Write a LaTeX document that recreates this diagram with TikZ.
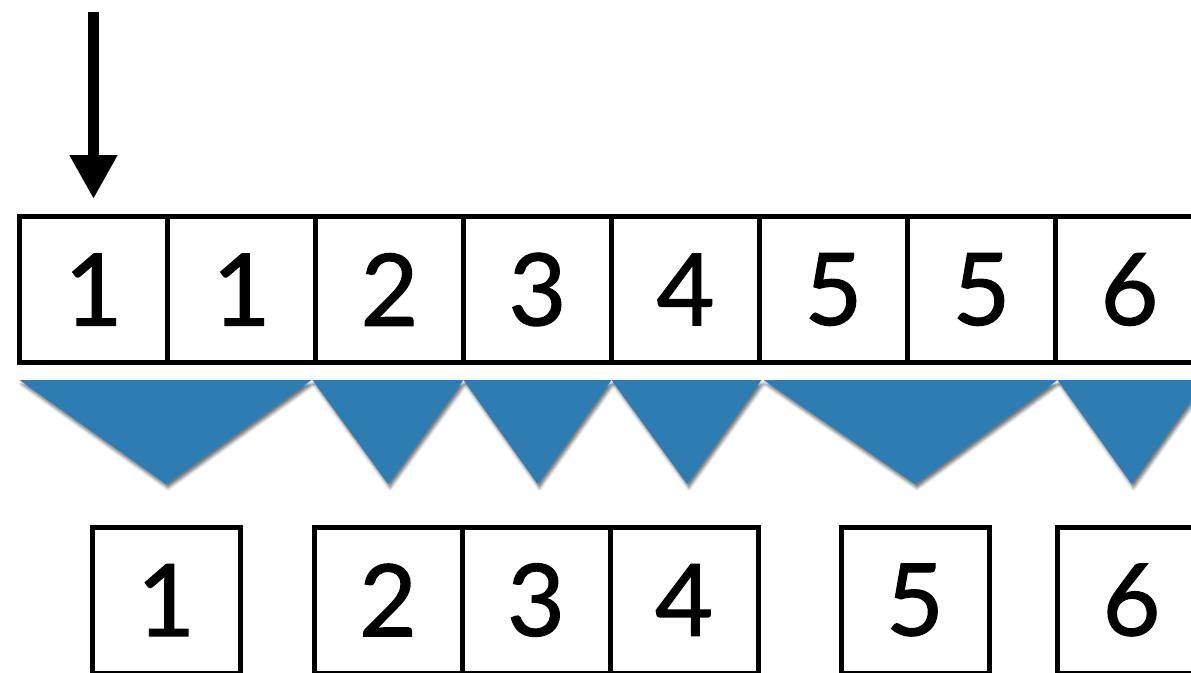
\documentclass[tikz,border=0pt]{standalone}
\usepackage{fontspec}
\setmainfont{Lato}
\newfontfamily\digitfont[FakeBold=1.2]{Lato}
\usetikzlibrary{positioning,calc,arrows.meta,shadows.blur}
\definecolor{runblue}{RGB}{46,125,178}

\begin{document}
\begin{tikzpicture}[
    x=1pt, y=-1pt,
    cell/.style={rectangle, draw, line width=5pt, minimum width=148pt, minimum height=146pt,
        inner sep=0pt, outer sep=0pt, font=\digitfont\fontsize{100}{100}\selectfont},
    run/.style={fill=runblue, blur shadow={shadow xshift=2pt, shadow yshift=-4pt,
        shadow blur radius=3pt, shadow opacity=55}},
    pointer/.style={line width=11pt, -{Triangle[width=45pt, length=44pt, fill=black]}},
    node distance=0pt
]

\useasboundingbox (0,0) rectangle (1191,672);
\clip (0,0) rectangle (1191,672);

% Input row
\node[cell] (t1) at (93.5,289.5) {1};
\node[cell, right=of t1] (t2) {1};
\node[cell, right=of t2] (t3) {2};
\node[cell, right=of t3] (t4) {3};
\node[cell, right=of t4] (t5) {4};
\node[cell, right=of t5] (t6) {5};
\node[cell, right=of t6] (t7) {5};
\node[cell, right=of t7] (t8) {6};

% Runs
\fill[run] ($(t1.south west)+(0,17.5)$) -- ($(t2.south east)+(-4,17.5)$)
    -- ($(t1.south east)+(-1.5,121.5)$) coordinate (a1) -- cycle;
\fill[run] ($(t3.south west)+(-3,17.5)$) -- ($(t3.south east)+(0,17.5)$)
    -- ($(t3.south)+(-1.5,121.5)$) coordinate (a2) -- cycle;
\fill[run] ($(t4.south west)+(0,17.5)$) -- ($(t4.south east)+(0,17.5)$)
    -- ($(t4.south)+(0,121.5)$) coordinate (a3) -- cycle;
\fill[run] ($(t5.south west)+(0,17.5)$) -- ($(t5.south east)+(2,17.5)$)
    -- ($(t5.south)+(1.5,121.5)$) coordinate (a4) -- cycle;
\fill[run] ($(t6.south west)+(4,17.5)$) -- ($(t7.south east)+(2,17.5)$)
    -- ($(t6.south east)+(7.5,121.5)$) coordinate (a5) -- cycle;
\fill[run] ($(t8.south west)+(2,17.5)$) -- ($(t8.south east)+(2,17.5)$)
    -- ($(t8.south)+(2,121.5)$) coordinate (a6) -- cycle;

% Output row
\node[cell, below=43pt of a1] (b1) {1};
\node[cell, below=43pt of a2] (b2) {2};
\node[cell, right=of b2] (b3) {3};
\node[cell, right=of b3] (b4) {4};
\node[cell, below=43pt of a5] (b5) {5};
\node[cell, below=43pt of a6] (b6) {6};

% Pointer
\coordinate[above=204.5pt of t1.north] (start);
\draw[pointer, shorten >=17.5pt] (start) -- (t1.north);

\end{tikzpicture}
\end{document}
